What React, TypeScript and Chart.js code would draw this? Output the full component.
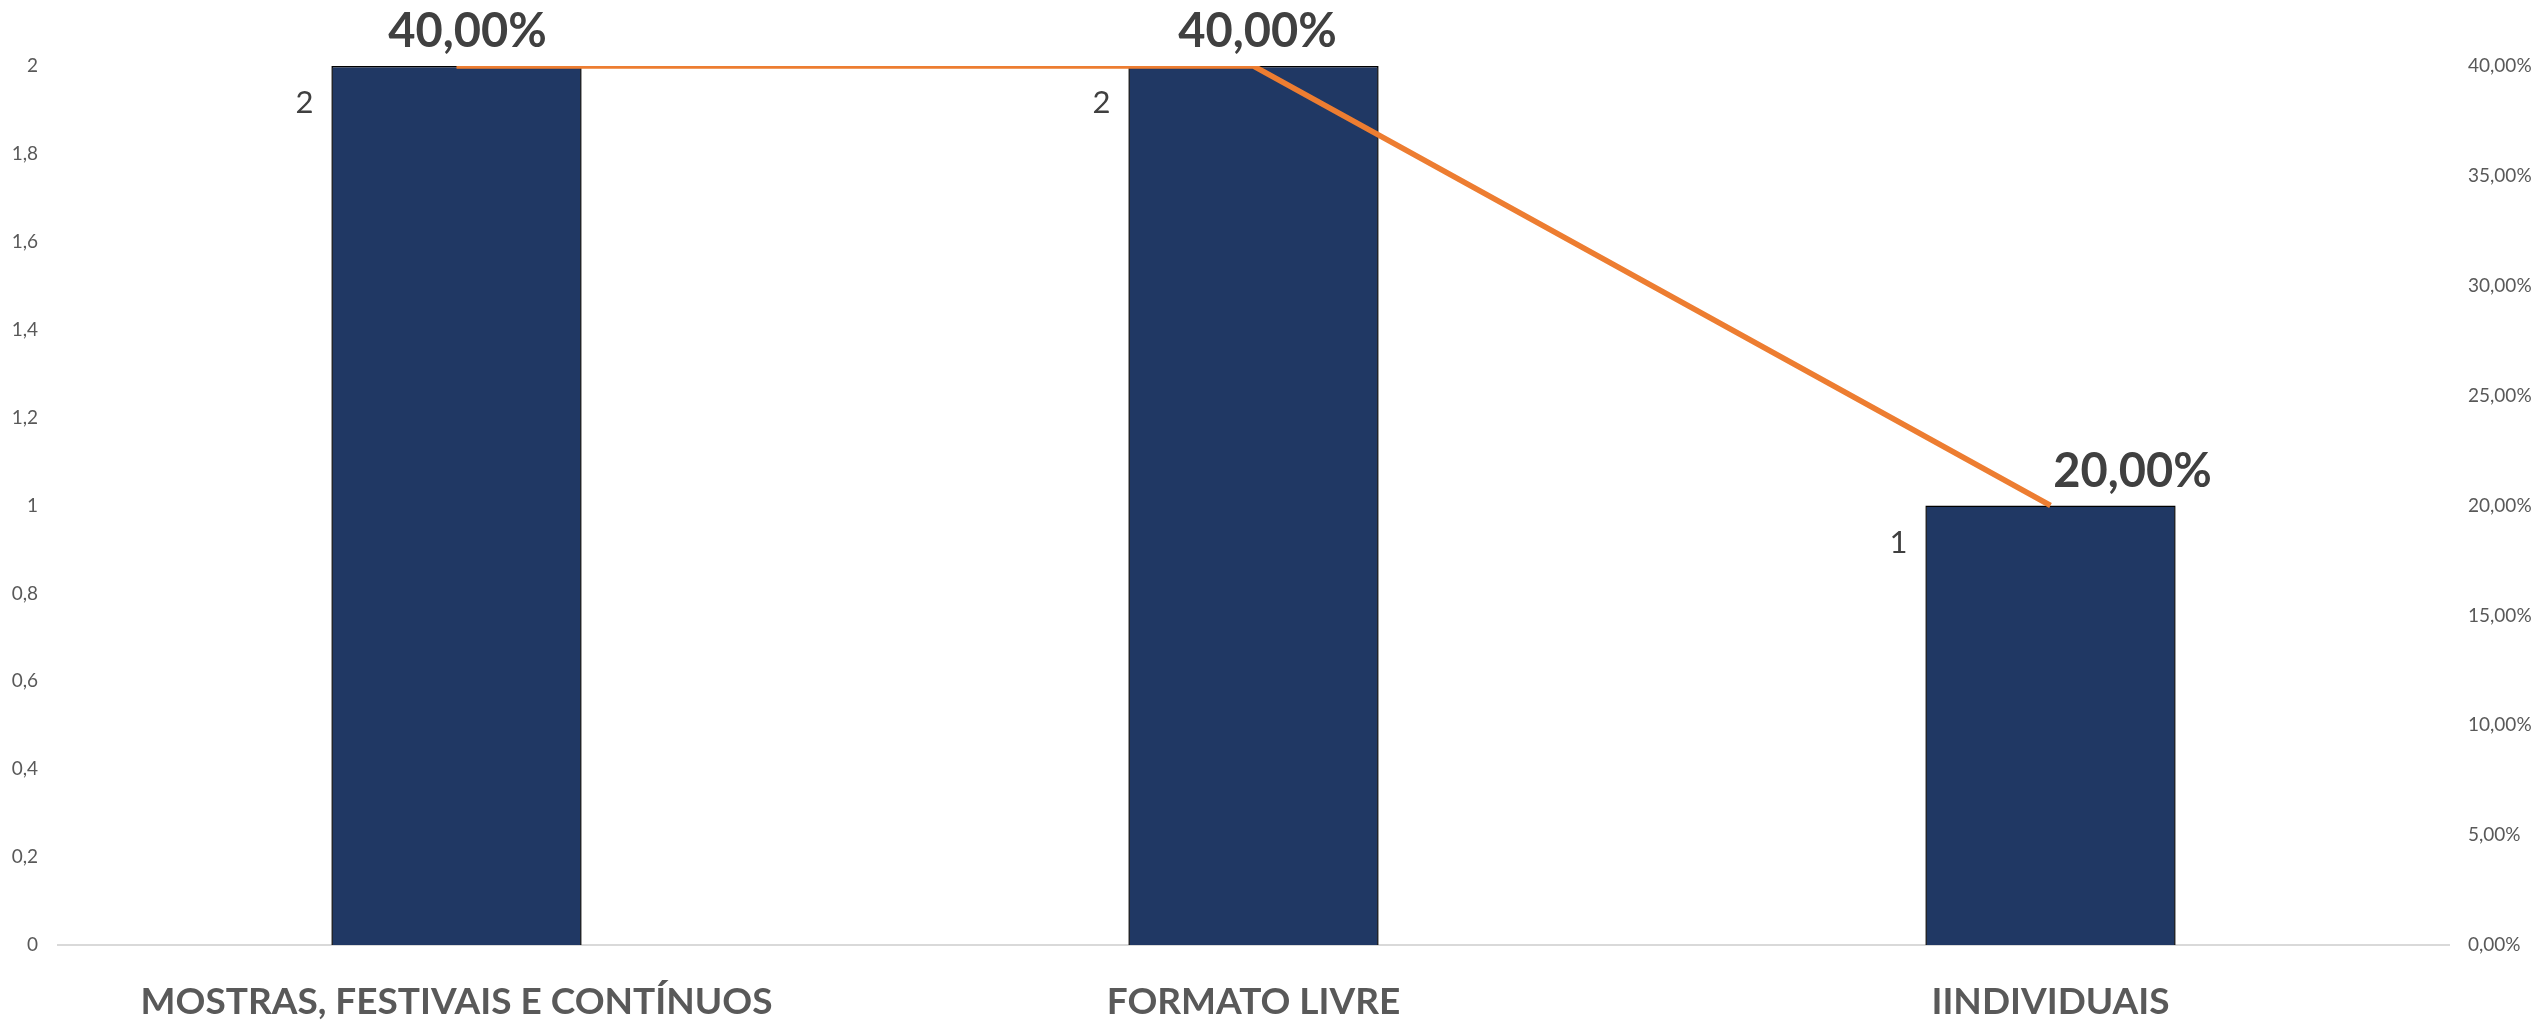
import React, { useEffect, useRef } from "react";
import { Chart, registerables } from "chart.js";

Chart.register(...registerables);

const categories = ["MOSTRAS, FESTIVAIS E CONTÍNUOS", "FORMATO LIVRE", "IINDIVIDUAIS"];
const counts = [2, 2, 1];
const shares = [0.4, 0.4, 0.2];
const countAxisMax = 2;
const countAxisStep = 0.2;
const shareAxisMax = 0.4;
const shareAxisStep = 0.05;

const fmtCount = (v: number) => {
  const r = Math.round(v * 10) / 10;
  return Number.isInteger(r) ? String(r) : r.toFixed(1).replace(".", ",");
};
const fmtShare = (v: number) => (Math.round(v * 10000) / 100).toFixed(2).replace(".", ",") + "%";

const shareLabelDx = [11, 4, 82];

const labelsPlugin = {
  id: "valueLabels",
  afterDatasetsDraw(chart: any) {
    const ctx = chart.ctx;
    const barMeta = chart.getDatasetMeta(1);
    const lineMeta = chart.getDatasetMeta(0);
    ctx.save();
    // count labels left of bars
    ctx.font = "31px Lato, 'Open Sans', sans-serif";
    ctx.fillStyle = "#404040";
    ctx.textAlign = "right";
    ctx.textBaseline = "middle";
    barMeta.data.forEach((el: any, i: number) => {
      const left = el.x - el.width / 2;
      ctx.fillText(String(counts[i]), left - 18, el.y + 37);
    });
    // share labels above line points
    ctx.font = "bold 47px Lato, 'Open Sans', sans-serif";
    ctx.fillStyle = "#404040";
    ctx.textAlign = "center";
    ctx.textBaseline = "alphabetic";
    lineMeta.data.forEach((el: any, i: number) => {
      ctx.fillText(fmtShare(shares[i]), el.x + shareLabelDx[i], el.y - 19);
    });
    ctx.restore();
  },
};

export default function App() {
  const ref = useRef<HTMLCanvasElement | null>(null);
  useEffect(() => {
    document.body.style.margin = "0";
    const canvas = ref.current;
    if (!canvas) return;
    const chart = new Chart(canvas, {
      type: "bar",
      data: {
        labels: categories,
        datasets: [
          {
            type: "line",
            label: "Percentual",
            data: shares,
            yAxisID: "y1",
            borderColor: "#ED7D31",
            backgroundColor: "#ED7D31",
            borderWidth: 5.5,
            pointRadius: 0,
            tension: 0,
            order: 0,
          } as any,
          {
            type: "bar",
            label: "Quantidade",
            data: counts,
            yAxisID: "y",
            backgroundColor: "#203864",
            borderColor: "#000000",
            borderWidth: 1.5,
            barPercentage: 0.314,
            categoryPercentage: 1,
            order: 1,
          } as any,
        ],
      },
      options: {
        responsive: false,
        animation: false,
        layout: { padding: { top: 66, left: 0, right: 0, bottom: 0 } },
        plugins: {
          legend: { display: false },
          tooltip: { enabled: false },
          title: { display: false },
        },
        scales: {
          x: {
            grid: { display: false, drawTicks: false },
            border: { display: true, color: "#d9d9d9", width: 2 },
            ticks: {
              color: "#595959",
              font: { family: "Lato, 'Open Sans', sans-serif", size: 37, weight: "bold" },
              padding: 35,
              maxRotation: 0,
              autoSkip: false,
            },
            afterFit(scale: any) {
              scale.height = 76;
            },
          },
          y: {
            position: "left",
            min: 0,
            max: countAxisMax,
            grid: { display: false, drawTicks: false },
            border: { display: false },
            ticks: {
              stepSize: countAxisStep,
              color: "#595959",
              font: { family: "Lato, 'Open Sans', sans-serif", size: 19 },
              padding: 20,
              callback: (v: any) => fmtCount(Number(v)),
            },
            afterFit(scale: any) {
              scale.width = 58;
            },
          },
          y1: {
            position: "right",
            min: 0,
            max: shareAxisMax,
            grid: { display: false, drawTicks: false },
            border: { display: false },
            ticks: {
              stepSize: shareAxisStep,
              color: "#595959",
              font: { family: "Lato, 'Open Sans', sans-serif", size: 19 },
              padding: 19,
              callback: (v: any) => fmtShare(Number(v)),
            },
            afterFit(scale: any) {
              scale.width = 93;
            },
          },
        },
      } as any,
      plugins: [labelsPlugin],
    });
    return () => chart.destroy();
  }, []);
  return (
    <div style={{ position: "absolute", left: 0, top: 0, width: 2542, height: 1021, background: "#ffffff" }}>
      <canvas ref={ref} width={2542} height={1021} style={{ display: "block" }} />
    </div>
  );
}
